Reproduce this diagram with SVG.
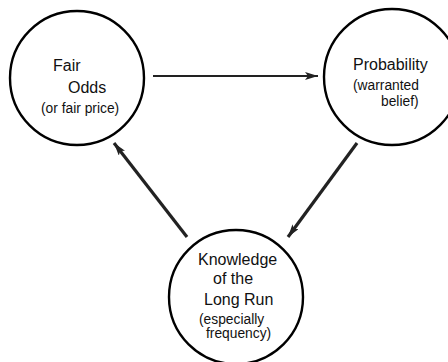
<svg xmlns="http://www.w3.org/2000/svg" width="448" height="362" viewBox="0 0 448 362">
  <style>
    .node { fill: #ffffff; stroke: #000000; stroke-width: 2.4; }
    .main { font-family: "Liberation Sans", Arial, sans-serif; font-size: 16px; fill: #111111; }
    .sub { font-family: "Liberation Sans", Arial, sans-serif; font-size: 13.8px; fill: #111111; }
    .edge { stroke: #222222; fill: none; }
  </style>
  <defs>
    <marker id="head" viewBox="0 0 13 8" refX="13" refY="4" markerWidth="13" markerHeight="8" markerUnits="userSpaceOnUse" orient="auto">
      <path d="M0,0 L13,4 L0,8 L3,4 Z" fill="#222222"/>
    </marker>
  </defs>
  <rect width="448" height="362" fill="#ffffff"/>

  <g id="connectors">
    <line class="edge" x1="153" y1="76" x2="318" y2="76" stroke-width="2.2" marker-end="url(#head)"/>
    <line class="edge" x1="357" y1="143" x2="288" y2="237" stroke-width="3.2" marker-end="url(#head)"/>
    <line class="edge" x1="187" y1="237" x2="114" y2="143" stroke-width="3.2" marker-end="url(#head)"/>
  </g>

  <g id="fair-odds">
    <circle class="node" cx="77" cy="78" r="67"/>
    <text class="main" x="53" y="71">Fair</text>
    <text class="main" x="68" y="93">Odds</text>
    <text class="sub" x="41" y="113">(or fair price)</text>
  </g>

  <g id="probability">
    <circle class="node" cx="392" cy="77" r="68"/>
    <text class="main" x="353" y="70">Probability</text>
    <text class="sub" x="353" y="90">(warranted</text>
    <text class="sub" x="381" y="106">belief)</text>
  </g>

  <g id="knowledge">
    <circle class="node" cx="236" cy="297" r="67"/>
    <text class="main" x="198" y="265">Knowledge</text>
    <text class="main" x="213" y="284">of the</text>
    <text class="main" x="204" y="305">Long Run</text>
    <text class="sub" x="199" y="324">(especially</text>
    <text class="sub" x="206" y="338">frequency)</text>
  </g>
</svg>
